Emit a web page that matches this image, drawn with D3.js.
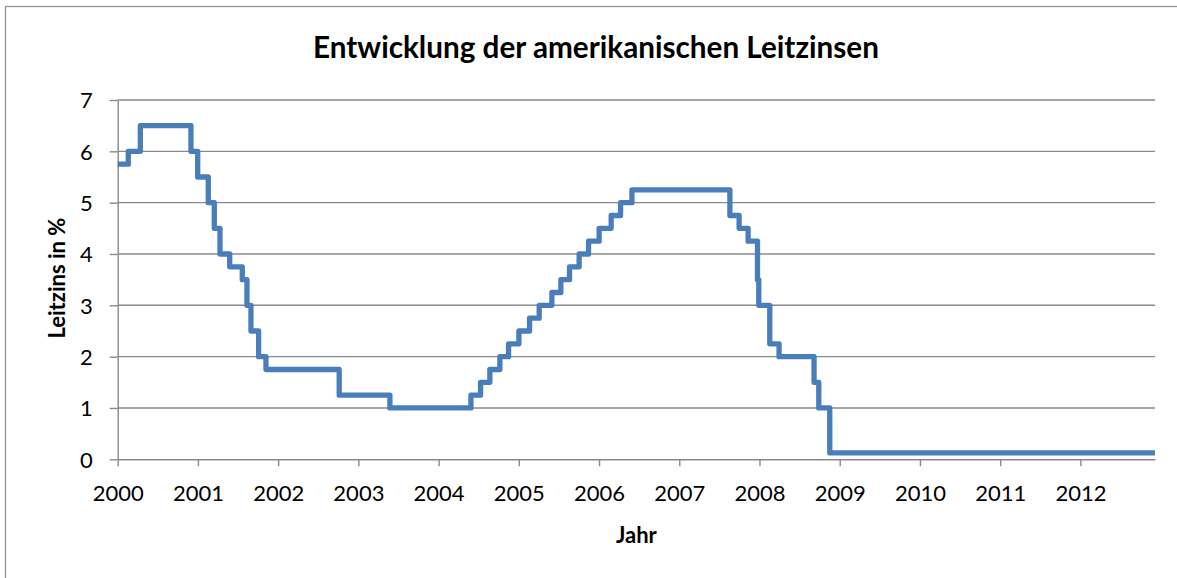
<!DOCTYPE html>
<html>
<head>
<meta charset="utf-8">
<script src="https://cdn.jsdelivr.net/npm/d3@7"></script>
<style>
  body { margin: 0; background: #fff; }
  svg text { font-family: Lato, "Open Sans", sans-serif; fill: #000; }
</style>
</head>
<body>
<div id="viz"></div>
<script>
// Leitzins-Stufen: Beginn jeder Stufe (Jahr als Dezimalzahl) und Zinssatz in %
var CHANGE_YEARS = [2000.000, 2000.132, 2000.282, 2000.913, 2000.997, 2001.129, 2001.204,
  2001.275, 2001.396, 2001.553, 2001.611, 2001.661, 2001.757, 2001.848, 2002.761, 2003.393,
  2004.403, 2004.523, 2004.639, 2004.764, 2004.872, 2005.001, 2005.134, 2005.254, 2005.412,
  2005.524, 2005.632, 2005.752, 2005.869, 2006.001, 2006.151, 2006.268, 2006.410, 2007.631,
  2007.746, 2007.858, 2007.975, 2007.991, 2008.128, 2008.244, 2008.680, 2008.739, 2008.876,
  2012.930];
var RATES = [5.75, 6.00, 6.50, 6.00, 5.50, 5.00, 4.50,
  4.00, 3.75, 3.50, 3.00, 2.50, 2.00, 1.75, 1.25, 1.00,
  1.25, 1.50, 1.75, 2.00, 2.25, 2.50, 2.75, 3.00, 3.25,
  3.50, 3.75, 4.00, 4.25, 4.50, 4.75, 5.00, 5.25, 4.75,
  4.50, 4.25, 3.50, 3.00, 2.25, 2.00, 1.50, 1.00, 0.125,
  0.125];
var YEAR_TICKS = [2000, 2001, 2002, 2003, 2004, 2005, 2006, 2007, 2008, 2009, 2010, 2011, 2012];
var RATE_TICKS = [0, 1, 2, 3, 4, 5, 6, 7];
var X_END = 2012.93;

var TITLE = "Entwicklung der amerikanischen Leitzinsen";
var X_TITLE = "Jahr";
var Y_TITLE = "Leitzins in %";

/*****************
 * INITIAL SETUP *
 *****************/
var SVG_WIDTH = 1177, SVG_HEIGHT = 578;
var LEFT = 117.7, RIGHT = 1155, TOP = 100, BOTTOM = 459.3;
var GRID_COLOR = "#8a8a8a", LINE_COLOR = "#4a7ebb";
var TICK_SIZE = 22;

var svg = d3.select("#viz")
  .append("svg")
  .attr("width", SVG_WIDTH)
  .attr("height", SVG_HEIGHT);

var x = d3.scaleLinear().domain([2000, X_END]).range([LEFT, RIGHT]);
var y = d3.scaleLinear().domain([0, 7]).range([BOTTOM, TOP]);

// chart frame (cut off on right and bottom)
svg.append("rect")
  .attr("x", 5.5).attr("y", 6.5)
  .attr("width", 1190).attr("height", 600)
  .attr("fill", "none")
  .attr("stroke", "#969696")
  .attr("stroke-width", 1.3);

// gridlines
svg.append("g")
  .selectAll("line")
  .data(RATE_TICKS.filter(function(d){ return d > 0; }))
  .enter()
  .append("line")
  .attr("x1", LEFT).attr("x2", RIGHT)
  .attr("y1", function(d){ return y(d); })
  .attr("y2", function(d){ return y(d); })
  .attr("stroke", GRID_COLOR)
  .attr("stroke-width", 1.4);

// x axis
var xAxis = svg.append("g")
  .attr("transform", "translate(0," + BOTTOM + ")")
  .call(d3.axisBottom(x).tickValues(YEAR_TICKS).tickFormat(d3.format("d"))
    .tickSizeInner(7).tickSizeOuter(0).tickPadding(0));

// y axis
var yAxis = svg.append("g")
  .attr("transform", "translate(" + LEFT + ",0)")
  .call(d3.axisLeft(y).tickValues(RATE_TICKS).tickFormat(d3.format("d"))
    .tickSizeInner(8).tickSizeOuter(0).tickPadding(17));

[xAxis, yAxis].forEach(function(ax){
  ax.select(".domain").attr("stroke", GRID_COLOR).attr("stroke-width", 1.4);
  ax.selectAll(".tick line").attr("stroke", GRID_COLOR).attr("stroke-width", 1.4);
  ax.selectAll(".tick text")
    .attr("fill", "#000")
    .style("font-family", "Lato, 'Open Sans', sans-serif")
    .attr("font-size", TICK_SIZE);
});
xAxis.selectAll(".tick text").attr("dy", null).attr("y", 42);
yAxis.selectAll(".tick text").attr("dy", "0.36em");

// rate line (step)
var line = d3.line()
  .x(function(d){ return x(d[0]); })
  .y(function(d){ return y(d[1]); })
  .curve(d3.curveStepAfter);

svg.append("path")
  .datum(d3.zip(CHANGE_YEARS, RATES))
  .attr("d", line)
  .attr("fill", "none")
  .attr("stroke", LINE_COLOR)
  .attr("stroke-width", 5.3)
  .attr("stroke-linejoin", "round");

// titles
var title = svg.append("text")
  .attr("x", 596).attr("y", 57.7)
  .attr("text-anchor", "middle")
  .attr("font-weight", "bold")
  .attr("font-size", 28)
  .text(TITLE);
// shrink/grow so the title is as wide as in the original (~566px)
var tLen = title.node().getComputedTextLength();
title.attr("font-size", (28 * 566 / tLen).toFixed(2));

svg.append("text")
  .attr("x", (LEFT + RIGHT) / 2).attr("y", 542.5)
  .attr("text-anchor", "middle")
  .attr("font-weight", "bold")
  .attr("font-size", 22)
  .text(X_TITLE);

svg.append("text")
  .attr("transform", "translate(65," + ((TOP + BOTTOM) / 2 - 1.5) + ") rotate(-90)")
  .attr("text-anchor", "middle")
  .attr("font-weight", "bold")
  .attr("font-size", 22)
  .text(Y_TITLE);
</script>
</body>
</html>
